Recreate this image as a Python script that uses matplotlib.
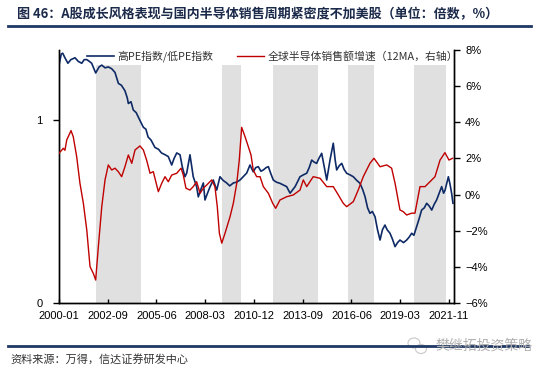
import numpy as np
import matplotlib
matplotlib.use('Agg')
import matplotlib.pyplot as plt
from matplotlib.lines import Line2D
from matplotlib.patches import Ellipse

plt.rcParams['font.family'] = ['Noto Sans CJK SC', 'DejaVu Sans']

# ---------------- data (months since 2000-01) ----------------
title = "图 46：A股成长风格表现与国内半导体销售周期紧密度不加美股（单位：倍数，%）"
source = "资料来源：万得，信达证券研发中心"
watermark = "樊继拓投资策略"
legend_labels = ["高PE指数/低PE指数", "全球半导体销售额增速（12MA，右轴）"]
x_tick_labels = ["2000-01", "2002-09", "2005-06", "2008-03", "2010-12",
                 "2013-09", "2016-06", "2019-03", "2021-11"]
left_ticks = [0, 1]
right_ticks = [-6, -4, -2, 0, 2, 4, 6, 8]

# shaded periods (start month, end month)
shade_start = [24.9, 109.8, 144.0, 194.4, 239.0]
shade_end = [55.0, 122.6, 174.4, 212.0, 260.6]

# high PE / low PE index ratio (left axis)
blue_months = [0, 1.5, 2.5, 4, 6, 8, 10.8, 13, 15.3, 17, 18.7, 20.5, 22, 24.7, 27, 28.8, 31,
               33.2, 35.5, 37.7, 40, 42, 44.4, 46, 46.7, 48.5, 50, 52, 53.4, 55, 56.8, 58.5,
               60, 62, 64.6, 67, 69, 71.5, 73.6, 75.9, 77.5, 79.3, 81.5, 83, 84.8, 86, 88.2,
               90.4, 92.7, 93.8, 95.5, 97.2, 98.3, 100, 101.7, 103.9, 106.2, 108.4, 110.5,
               112.9, 115, 117.4, 119.5, 121.9, 124, 126.4, 128.6, 130.8, 132.5, 134.2, 136,
               137.6, 139.5, 141, 142.5, 144.3, 146.5, 148.8, 151, 153.3, 155.6, 157.5, 159,
               160.5, 162.3, 164.5, 166.8, 168.5, 170.2, 171.8, 173.5, 175, 176.9, 178.5,
               180.3, 181.5, 182.5, 184.7, 186, 187, 188.7, 190.4, 192, 193.7, 196, 198.2,
               200.5, 202.7, 204.5, 206.1, 207.8, 209.4, 211, 212.8, 214.5, 216.2, 217.8,
               219.5, 221, 222.9, 224.5, 226.3, 228, 229.6, 232, 234.1, 235.8, 237.5, 239,
               240.8, 242.5, 244.2, 246, 247.6, 249.3, 251, 252.7, 254.3, 256, 257.7, 259,
               260, 261, 262.2, 263.3, 264.4, 265.3]
blue_values = [1.30, 1.36, 1.365, 1.34, 1.31, 1.33, 1.34, 1.32, 1.31, 1.33, 1.33, 1.32, 1.31,
               1.257, 1.29, 1.30, 1.285, 1.29, 1.28, 1.26, 1.20, 1.19, 1.16, 1.12, 1.09, 1.10,
               1.055, 1.04, 1.016, 0.99, 0.96, 0.95, 0.907, 0.89, 0.85, 0.84, 0.82, 0.81, 0.80,
               0.754, 0.79, 0.82, 0.81, 0.745, 0.69, 0.71, 0.81, 0.69, 0.635, 0.58, 0.62, 0.656,
               0.563, 0.60, 0.635, 0.672, 0.617, 0.69, 0.67, 0.656, 0.64, 0.656, 0.66, 0.672,
               0.69, 0.71, 0.754, 0.717, 0.74, 0.745, 0.72, 0.727, 0.74, 0.745, 0.71, 0.672,
               0.66, 0.654, 0.645, 0.636, 0.60, 0.62, 0.636, 0.66, 0.69, 0.70, 0.709, 0.74,
               0.781, 0.77, 0.763, 0.79, 0.818, 0.75, 0.672, 0.73, 0.781, 0.873, 0.78, 0.727,
               0.75, 0.763, 0.73, 0.709, 0.70, 0.69, 0.67, 0.654, 0.62, 0.581, 0.52, 0.49, 0.50,
               0.472, 0.40, 0.344, 0.40, 0.426, 0.40, 0.381, 0.35, 0.308, 0.33, 0.344, 0.33,
               0.344, 0.36, 0.381, 0.37, 0.417, 0.46, 0.508, 0.52, 0.545, 0.53, 0.508, 0.54,
               0.563, 0.60, 0.636, 0.60, 0.617, 0.65, 0.69, 0.65, 0.60, 0.545]

# global semiconductor sales growth, 12MA (right axis, %)
red_months = [0, 2.9, 4, 5.2, 8.1, 9.6, 11.9, 14.1, 16.4, 18.7, 20.9, 23.1, 24.7, 26.5, 28.8,
              31, 33.2, 35.5, 37.7, 39.9, 42.2, 44.4, 46.7, 49, 51.2, 54.5, 56.8, 59, 61.3,
              63.5, 66.9, 69.2, 71.4, 73.6, 75.9, 79.3, 82.2, 83.7, 85.5, 88.2, 90.4, 92.7,
              95, 97.2, 99.5, 102.8, 105, 106.6, 108, 109.6, 111.8, 115.2, 117.4, 119.7,
              121.4, 123, 125.3, 127.5, 129.3, 130.8, 133.1, 135.4, 137.6, 141, 143.9, 145.9,
              148.8, 153.3, 157.8, 162.3, 164.5, 166.8, 171.2, 175.8, 180.3, 184.7, 188.1,
              191.4, 193.7, 198.2, 201.5, 204.9, 209.4, 212.1, 216.2, 220.7, 224, 226.3,
              229.6, 231.9, 234.1, 237.5, 239.7, 243.1, 246.5, 249.8, 253.2, 256.6, 259.9,
              262.6, 265.1]
red_values = [2.29, 2.56, 2.45, 3.02, 3.54, 3.2, 2.1, 0.63, -0.48, -1.96, -3.99, -4.36, -4.73,
              -2.88, -0.67, 0.81, 1.64, 1.36, 1.46, 1.27, 0.99, 1.54, 2.19, 1.73, 2.47, 2.69,
              2.47, 1.91, 1.18, 1.27, 0.16, 0.63, 0.99, 0.71, 1.08, 1.18, 1.46, 1.08, 0.35,
              0.25, 0.44, 0.71, 0.07, 0.35, 0.53, 0.81, 0.44, -0.67, -2.14, -2.69, -2.14,
              -1.22, -0.48, 0.63, 1.91, 3.72, 3.2, 2.65, 2.19, 1.36, 0.99, 0.99, 0.44, 0.07,
              -0.48, -0.76, -0.3, -0.12, -0.02, 0.25, 0.81, 0.44, 0.99, 0.9, 0.44, 0.44, -0.02,
              -0.48, -0.67, -0.39, 0.25, 0.99, 1.73, 2.01, 1.54, 1.64, 1.46, 0.63, -0.85,
              -0.95, -1.13, -1.03, -1.03, 0.44, 0.44, 0.71, 0.99, 1.91, 2.32, 1.91, 2.01]

# ---------------- figure ----------------
W, H = 543, 373
fig = plt.figure(figsize=(W / 100, H / 100), dpi=100)
fig.patch.set_facecolor('white')

navy = '#1F3864'
blue = '#0E2A66'
red = '#C00000'

# title and rules
fig.text(17 / W, 1 - 14 / H, title, fontsize=9.4, fontweight='bold', color='#1B2A4A',
         ha='left', va='center', family=['Noto Sans CJK SC', 'DejaVu Sans'])
fig.add_artist(Line2D([8 / W, 531 / W], [1 - 26 / H, 1 - 26 / H], color=navy, lw=2.0))
fig.add_artist(Line2D([8 / W, 528 / W], [1 - 346 / H, 1 - 346 / H], color=navy, lw=2.0))
fig.text(10 / W, 1 - 359 / H, source, fontsize=8, color='#333333', ha='left', va='center',
         style='italic')
# watermark
fig.add_artist(Ellipse((414 / W, 1 - 343 / H), 12 / W, 10 / H, fill=False, ec='#c8c8c8', lw=0.8))
fig.add_artist(Ellipse((421 / W, 1 - 349 / H), 11 / W, 9 / H, fc='white', ec='#c8c8c8', lw=0.8))
fig.text(435 / W, 1 - 346 / H, watermark, fontsize=10, color='#b0b0b0', ha='left', va='center')

ax = fig.add_axes([59 / W, 70 / H, 395 / W, 253 / H])
ax2 = ax.twinx()

for s, e in zip(shade_start, shade_end):
    ax.axvspan(s, e, ymin=0, ymax=0.941, color='#e0e0e0', lw=0, zorder=0)

l1, = ax.plot(blue_months, blue_values, color=blue, lw=1.2, zorder=3)
l2, = ax2.plot(red_months, red_values, color=red, lw=1.0, zorder=3)

ax.set_xlim(0, 266)
ax.set_ylim(0, 1.3825)
ax2.set_ylim(-6, 8)

ax.set_xticks(np.linspace(0, 262.6, len(x_tick_labels)))
ax.set_xticklabels(x_tick_labels)
ax.set_yticks(left_ticks)
ax.set_yticklabels([str(v) for v in left_ticks])
ax2.set_yticks(right_ticks)
ax2.set_yticklabels([("−" if v < 0 else "") + f"{abs(v)}%" for v in right_ticks])

tick_font = ['Liberation Sans', 'DejaVu Sans']
for lab in ax.get_xticklabels() + ax.get_yticklabels() + ax2.get_yticklabels():
    lab.set_family(tick_font)
    lab.set_fontsize(8)
    lab.set_color('black')

ax.tick_params(axis='x', direction='in', length=3, width=1, pad=6)
ax.tick_params(axis='y', direction='out', length=4, width=1, pad=8)
ax2.tick_params(axis='y', direction='out', length=4, width=1, pad=4)

for a in (ax, ax2):
    a.spines['top'].set_visible(False)
    for sp in a.spines.values():
        sp.set_color('black')
        sp.set_linewidth(1.0)

leg = ax.legend([l1, l2], legend_labels, ncol=2, loc='center left',
                bbox_to_anchor=(87 / W, 1 - 56 / H), bbox_transform=fig.transFigure,
                frameon=False, fontsize=7.8, handlelength=2.5, handletextpad=0.35,
                columnspacing=2.1, borderpad=0, borderaxespad=0)
for t in leg.get_texts():
    t.set_color('#333333')

fig.savefig('out.png', dpi=100)
